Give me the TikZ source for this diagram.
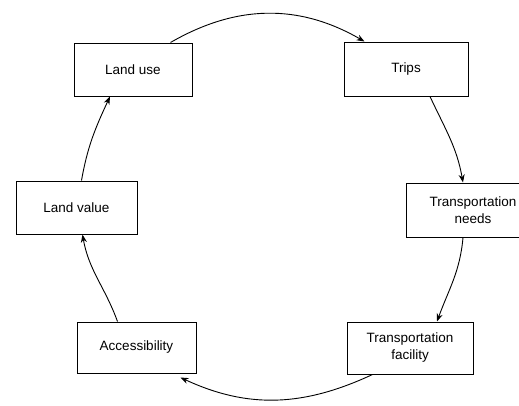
\documentclass[tikz,border=0pt]{standalone}
\usepackage{fontspec}
\setmainfont{Liberation Sans}
\usetikzlibrary{arrows.meta}
\begin{document}
\begin{tikzpicture}[x=1pt,y=-1pt,
  box/.style={draw,line width=1pt,rectangle,inner sep=0pt,align=center,font=\fontsize{13.5}{17}\selectfont},
  arr/.style={line width=0.9pt,-{Stealth[length=8pt,width=6pt]}}]
\useasboundingbox (0,0) rectangle (519,405);
\node[box,minimum width=118pt,minimum height=53pt] (lu) at (133,69.5) {Land use};
\node[box,minimum width=124pt,minimum height=54pt] (tr) at (406,69) {Trips};
\node[box,minimum width=134pt,minimum height=54pt] (tn) at (473,210) {Transportation\\needs};
\node[box,minimum width=126pt,minimum height=52pt] (tf) at (410,348) {Transportation\\facility};
\node[box,minimum width=121pt,minimum height=53pt] (lv) at (76.5,207.5) {Land value};
\node[box,minimum width=119pt,minimum height=51pt] (ac) at (136.5,347.5) {Accessibility};
\draw[arr] ([xshift=-22pt]lu.north east) to[out=30,in=150] ([xshift=21pt]tr.north west);
\draw[arr] ([xshift=24pt]tr.south) to[out=-65,in=100] ([xshift=-10pt]tn.north);
\draw[arr] ([xshift=-10pt]tn.south) to[out=-95,in=70] ([xshift=27pt]tf.north);
\draw[arr] ([xshift=26pt]tf.south west) to[out=-155,in=-25] ([xshift=-16pt,yshift=-4pt]ac.south east);
\draw[arr] ([xshift=-19pt]ac.north) to[out=110,in=-80] ([xshift=6pt]lv.south);
\draw[arr] ([xshift=5pt]lv.north) to[out=80,in=-115] ([xshift=-23pt]lu.south);
\end{tikzpicture}
\end{document}
